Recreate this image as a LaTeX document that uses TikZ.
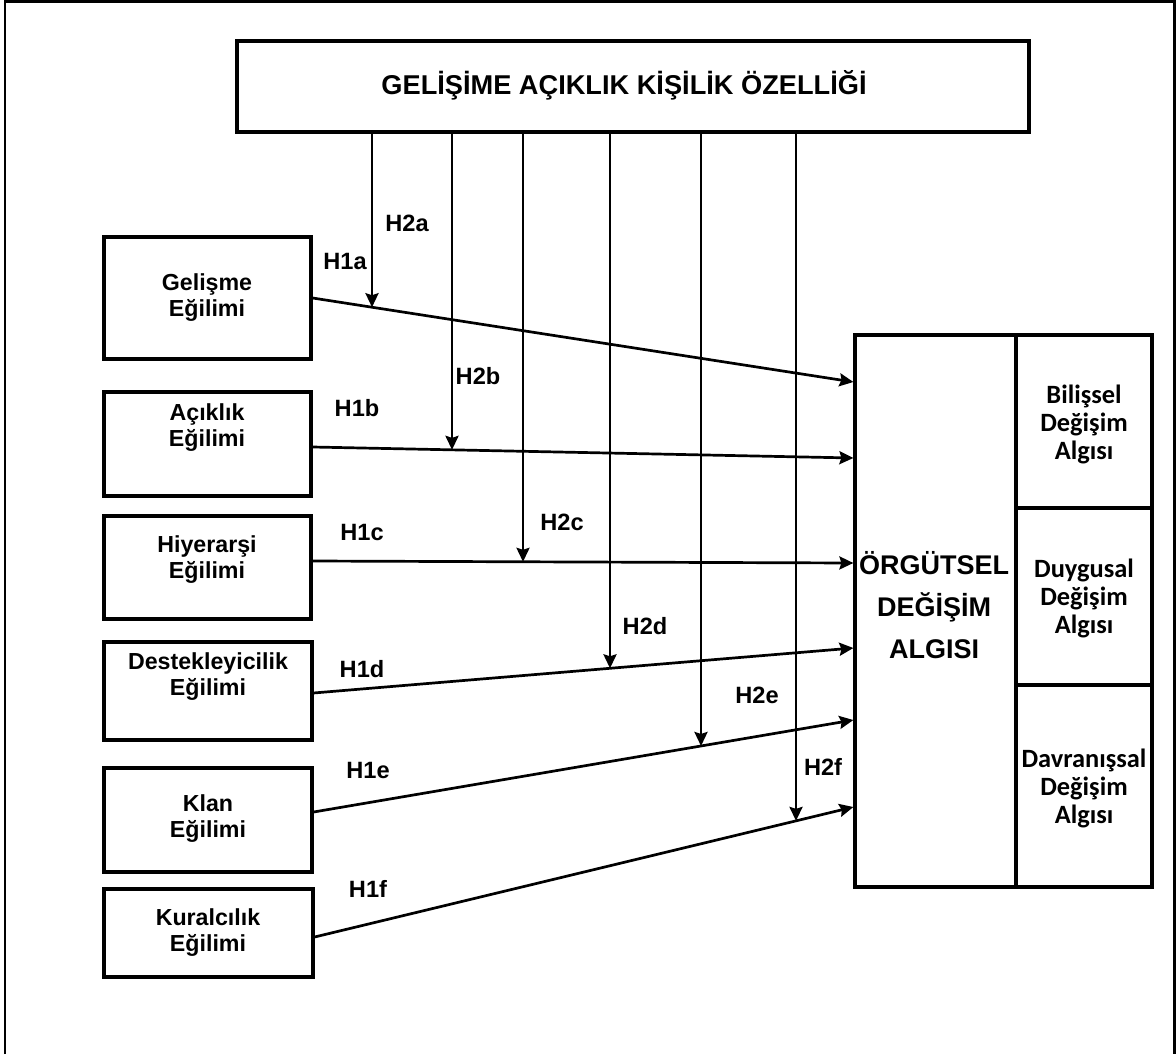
\documentclass[tikz,border=0pt]{standalone}
\usepackage{fontspec}
\setmainfont{Liberation Sans}
\newfontfamily\calib{Carlito}
\usetikzlibrary{arrows.meta,intersections,fit,calc}

\begin{document}
\begin{tikzpicture}[
  x=0.5pt, y=-0.5pt,
  box/.style={draw, line width=1.6pt, rectangle, inner sep=0pt},
  frameline/.style={line width=1.25pt},
  arr/.style={line width=1.35pt, -{Stealth[length=7pt,width=6.5pt,inset=1pt]}},
  ltext/.style={align=center, font=\fontsize{11.6}{13}\selectfont\bfseries},
  rtext/.style={align=center, font=\calib\fontsize{13.2}{14}\selectfont\bfseries},
  hlab/.style={font=\fontsize{11.8}{13}\selectfont\bfseries},
]
\useasboundingbox (0,0) rectangle (1176,1054);

% outer frame (open at the bottom)
\draw[frameline] (5,1054) -- (5,1.5) -- (1174.5,1.5) -- (1174.5,1054);

% moderator box
\node[box, fit={(237,41) (1029,132)}] (top) {};
\node[font=\fontsize{13.6}{15}\selectfont\bfseries] (topT) at (624,85) {GELİŞİME AÇIKLIK KİŞİLİK ÖZELLİĞİ};

% culture orientation boxes
\node[box, fit={(104,237) (311,359)}] (gel) {};
\node[box, fit={(104,392) (311,496)}] (aci) {};
\node[box, fit={(104,516) (311,619)}] (hiy) {};
\node[box, fit={(104,642) (312,740)}] (des) {};
\node[box, fit={(104,768) (312,872)}] (kla) {};
\node[box, fit={(104,889) (313,977)}] (kur) {};

\node[ltext] (gelT) at (207,298) {Gelişme\\Eğilimi};
\node[ltext] (aciT) at (207,428) {Açıklık\\Eğilimi};
\node[ltext] (hiyT) at (207,560) {Hiyerarşi\\Eğilimi};
\node[ltext] (desT) at (208,677) {Destekleyicilik\\Eğilimi};
\node[ltext] (klaT) at (208,819) {Klan\\Eğilimi};
\node[ltext] (kurT) at (208,933) {Kuralcılık\\Eğilimi};

% outcome box with its three dimensions
\node[box, fit={(855,335) (1016,887)}] (org) {};
\node[box, fit={(1016,335) (1152,508)}] (bil) {};
\node[box, fit={(1016,508) (1152,685)}] (duy) {};
\node[box, fit={(1016,685) (1152,887)}] (dav) {};

\node[align=center, font=\fontsize{13.5}{21}\selectfont\bfseries] (orgT) at (934,605) {ÖRGÜTSEL\\DEĞİŞİM\\ALGISI};
\node[rtext] (bilT) at (1084,424) {Bilişsel\\Değişim\\Algısı};
\node[rtext] (duyT) at (1084,598) {Duygusal\\Değişim\\Algısı};
\node[rtext] (davT) at (1084,788) {Davranışsal\\Değişim\\Algısı};

% arrow end points on the outcome box
\coordinate (t1) at (org.west |- 0,382);
\coordinate (t2) at (org.west |- 0,458);
\coordinate (t3) at (org.west |- 0,563);
\coordinate (t4) at (org.west |- 0,648);
\coordinate (t5) at (org.west |- 0,720);
\coordinate (t6) at (org.west |- 0,807);

% direct effects H1a-H1f
\draw[arr, name path=pa] (gel.east |- 0,298) -- (t1);
\draw[arr, name path=pb] (aci.east |- 0,447) -- (t2);
\draw[arr, name path=pc] (hiy.east |- 0,561) -- (t3);
\draw[arr, name path=pd] (des.east |- 0,693) -- (t4);
\draw[arr, name path=pe] (kla.east |- 0,812) -- (t5);
\draw[arr, name path=pf] (kur.east |- 0,937) -- (t6);

% guide lines for the moderating arrows
\path[name path=va] (372,0) -- (372,1054);
\path[name path=vb] (452,0) -- (452,1054);
\path[name path=vc] (523,0) -- (523,1054);
\path[name path=vd] (610,0) -- (610,1054);
\path[name path=ve] (701,0) -- (701,1054);
\path[name path=vf] (796,0) -- (796,1054);

\path[name intersections={of=va and pa, by=ma}];
\path[name intersections={of=vb and pb, by=mb}];
\path[name intersections={of=vc and pc, by=mc}];
\path[name intersections={of=vd and pd, by=md}];
\path[name intersections={of=ve and pe, by=me}];
\path[name intersections={of=vf and pf, by=mf}];

% moderating effects H2a-H2f
\draw[arr] (ma |- top.south) -- (ma);
\draw[arr] (mb |- top.south) -- (mb);
\draw[arr] (mc |- top.south) -- (mc);
\draw[arr] (md |- top.south) -- (md);
\draw[arr] (me |- top.south) -- (me);
\draw[arr] (mf |- top.south) -- (mf);

% hypothesis labels
\node[hlab] (h2a) at (407,223) {H2a};
\node[hlab] (h1a) at (345,261) {H1a};
\node[hlab] (h2b) at (478,376) {H2b};
\node[hlab] (h1b) at (357,408) {H1b};
\node[hlab] (h2c) at (562,522) {H2c};
\node[hlab] (h1c) at (362,532) {H1c};
\node[hlab] (h2d) at (645,626) {H2d};
\node[hlab] (h1d) at (362,669) {H1d};
\node[hlab] (h2e) at (757,695) {H2e};
\node[hlab] (h1e) at (368,770) {H1e};
\node[hlab] (h2f) at (823,767) {H2f};
\node[hlab] (h1f) at (368,889) {H1f};
\end{tikzpicture}
\end{document}
